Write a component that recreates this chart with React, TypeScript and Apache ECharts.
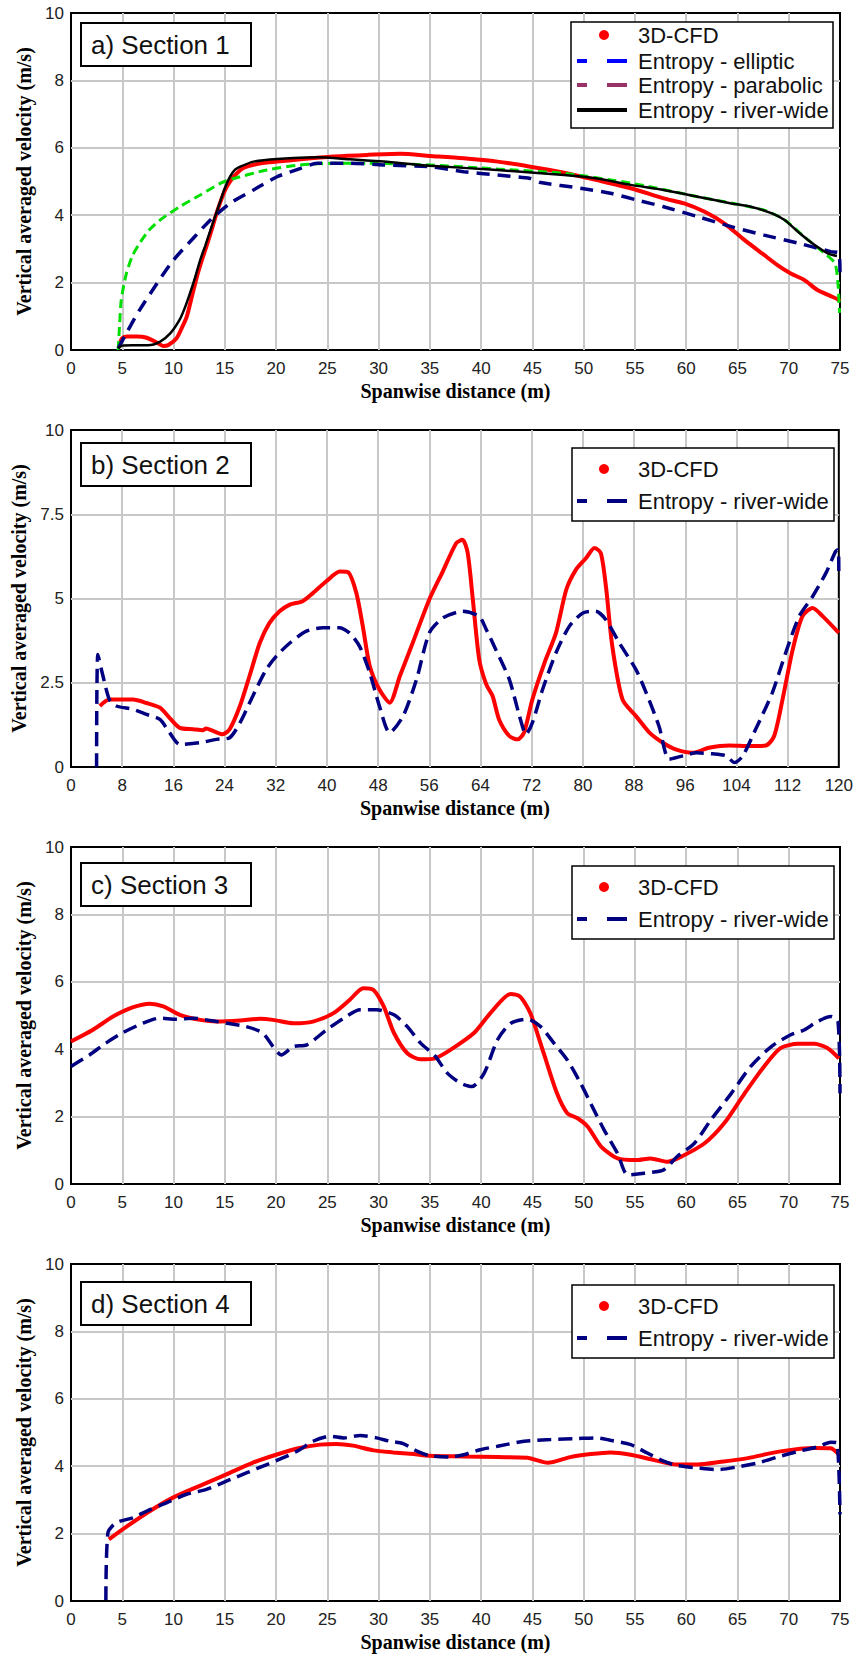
import React, { useEffect, useRef } from "react";
import * as echarts from "echarts";

// ---------- data ----------
const xTicks1 = { min: 0, max: 75, interval: 5 };
const xTicks2 = { min: 0, max: 120, interval: 8 };
const yTicksStd = { min: 0, max: 10, interval: 2 };
const yTicks2 = { min: 0, max: 10, interval: 2.5 };

const panelLabels = ["a) Section 1", "b) Section 2", "c) Section 3", "d) Section 4"];
const legendNames1 = ["3D-CFD", "Entropy - elliptic", "Entropy - parabolic", "Entropy - river-wide"];
const legendNames2 = ["3D-CFD", "Entropy - river-wide"];
const xAxisName = "Spanwise distance (m)";
const yAxisName = "Vertical averaged velocity (m/s)";

const s1Cfd: number[][] = [
  [4.7, 0.15], [5.0, 0.35], [5.5, 0.4], [6.5, 0.4], [7.3, 0.37], [8.2, 0.25], [9.0, 0.12], [9.5, 0.15],
  [10.3, 0.35], [10.8, 0.65], [11.3, 1.0], [11.8, 1.6], [12.3, 2.2], [12.8, 2.7], [13.2, 3.07], [13.7, 3.55],
  [14.2, 4.06], [14.7, 4.5], [15.2, 4.85], [15.9, 5.15], [16.8, 5.4], [18.5, 5.54], [20.1, 5.59], [22.4, 5.66],
  [25.6, 5.74], [28.9, 5.79], [32.1, 5.82], [35, 5.76], [38.3, 5.69], [41.6, 5.59], [44.8, 5.44], [48.1, 5.26],
  [51.3, 5.04], [54.6, 4.8], [57.8, 4.5], [59.8, 4.35], [61.8, 4.1], [63.7, 3.76], [65.7, 3.26], [67.6, 2.82],
  [68.9, 2.52], [70.2, 2.27], [71.5, 2.08], [72.8, 1.78], [74.1, 1.6], [74.8, 1.5], [75, 1.45],
];
const s1Elliptic: number[][] = [
  [4.6, 0.05], [5.4, 0.5], [6.7, 1.19], [8.4, 1.98], [10, 2.67], [11.9, 3.31], [13.6, 3.86], [15.5, 4.35],
  [17.8, 4.75], [20.1, 5.14], [22.4, 5.39], [24, 5.54], [27.2, 5.54], [30.5, 5.49], [35, 5.44], [38.3, 5.29],
  [41.6, 5.19], [44.8, 5.09], [45.8, 4.97], [49.7, 4.8], [52.6, 4.65], [55.2, 4.45], [57.8, 4.25], [61.1, 3.96],
  [64.4, 3.66], [67.6, 3.41], [70.9, 3.17], [74.1, 2.92], [74.9, 2.87], [75, 2.3],
];
const s1Parabolic: number[][] = [
  [4.6, 0], [4.75, 0.8], [4.9, 1.48], [5.4, 2.27], [6.0, 2.8], [6.7, 3.17], [7.6, 3.55], [8.7, 3.86],
  [10.6, 4.25], [12.6, 4.6], [14.6, 4.95], [15.9, 5.09], [19.1, 5.34], [22.4, 5.49], [25.6, 5.54], [28.9, 5.54],
  [35, 5.49], [41.6, 5.37], [48.1, 5.24], [54.6, 4.95], [61.1, 4.55], [67.6, 4.15], [69.6, 3.86], [71.5, 3.36],
  [73.5, 2.87], [74.5, 2.57], [74.8, 1.98], [74.95, 1.1],
];
const s1RiverWide: number[][] = [
  [4.6, 0.05], [5.0, 0.13], [6, 0.14], [7.5, 0.14], [8.7, 0.25], [9.7, 0.5], [10.6, 0.9], [11.1, 1.25],
  [11.6, 1.68], [12.1, 2.15], [12.6, 2.67], [13.1, 3.1], [13.6, 3.56], [14.1, 4.0], [14.6, 4.45], [15.0, 4.8],
  [15.5, 5.14], [16.0, 5.35], [16.5, 5.44], [17.8, 5.59], [20.1, 5.67], [24, 5.72], [27.2, 5.66], [30.5, 5.59],
  [35, 5.47], [41.6, 5.34], [48.1, 5.19], [51.3, 5.09], [54.6, 4.9], [57.8, 4.75], [61.1, 4.55], [64.4, 4.35],
  [66.3, 4.25], [68.3, 4.06], [69.6, 3.86], [70.9, 3.51], [72.5, 3.12], [73.8, 2.87], [74.7, 2.79],
];

const s2Cfd: number[][] = [
  [4.5, 1.81], [6.0, 2.0], [9.7, 2.0], [11.8, 1.9], [13.9, 1.76], [15.4, 1.46], [17.0, 1.16], [19.1, 1.12],
  [20.6, 1.09], [21.1, 1.14], [22.2, 1.07], [23.7, 0.97], [24.8, 1.12], [26.4, 1.81], [27.9, 2.7], [29.5, 3.68],
  [31.0, 4.27], [32.6, 4.62], [34.2, 4.82], [36.2, 4.92], [37.8, 5.16], [39.9, 5.51], [42.0, 5.8], [43.3, 5.78],
  [44.6, 5.16], [45.6, 4.18], [46.7, 2.99], [48.2, 2.3], [49.8, 1.91], [51.4, 2.7], [53.4, 3.68], [56.0, 4.97],
  [58.1, 5.8], [60.2, 6.64], [61.2, 6.74], [62.0, 6.35], [62.8, 4.97], [63.8, 3.19], [64.9, 2.45], [65.9, 2.1],
  [66.9, 1.41], [68.5, 0.92], [69.8, 0.82], [70.8, 1.02], [72.1, 2.0], [74.0, 3.09], [75.8, 3.98], [77.4, 5.26],
  [78.9, 5.85], [80.5, 6.2], [81.8, 6.5], [82.8, 6.35], [83.6, 5.36], [84.6, 3.58], [86.2, 2.0], [88.3, 1.51],
  [90.4, 1.02], [92.5, 0.72], [94.5, 0.52], [97.1, 0.42], [99.7, 0.57], [102.9, 0.64], [106.0, 0.62], [108.6, 0.64],
  [109.9, 0.92], [111.2, 2.0], [112.8, 3.49], [114.3, 4.47], [115.9, 4.72], [117.5, 4.47], [120, 3.98],
];
const s2RiverWide: number[][] = [
  [4.0, 0], [4.2, 3.34], [5.0, 2.7], [6.0, 2.0], [7.1, 1.81], [9.7, 1.71], [11.8, 1.56], [13.9, 1.41],
  [15.4, 1.02], [17.0, 0.67], [20.1, 0.72], [22.7, 0.82], [24.8, 0.87], [26.4, 1.31], [28.4, 2.1], [30.5, 2.89],
  [32.1, 3.29], [34.2, 3.68], [36.8, 4.03], [39.4, 4.13], [42.0, 4.13], [43.5, 3.98], [45.1, 3.58], [46.7, 2.79],
  [48.2, 1.81], [49.8, 1.02], [51.9, 1.51], [54.0, 2.6], [56.0, 3.98], [58.1, 4.42], [61.2, 4.62], [63.8, 4.47],
  [64.9, 4.08], [66.4, 3.48], [68.5, 2.6], [70.1, 1.51], [71.1, 0.97], [72.1, 1.31], [73.7, 2.3], [75.8, 3.39],
  [77.9, 4.18], [80.0, 4.57], [82.0, 4.62], [83.6, 4.37], [85.7, 3.68], [88.3, 2.89], [89.9, 2.2], [91.9, 1.21],
  [93.5, 0.23], [95.6, 0.33], [97.7, 0.42], [100.3, 0.39], [102.4, 0.33], [103.7, 0.13], [105.0, 0.33], [107.0, 1.12],
  [109.6, 2.2], [111.7, 3.39], [113.8, 4.47], [115.9, 5.06], [118.0, 5.76], [119.5, 6.4], [119.9, 6.45], [120, 5.76],
];

const s3Cfd: number[][] = [
  [0, 4.23], [2.1, 4.57], [4.1, 4.97], [6.0, 5.24], [7.7, 5.35], [9.0, 5.27], [10.6, 5.02], [12.6, 4.87],
  [14.2, 4.82], [16.5, 4.85], [18.4, 4.9], [19.7, 4.87], [21.7, 4.77], [23.6, 4.82], [25.6, 5.07], [27.2, 5.47],
  [28.5, 5.81], [29.5, 5.76], [30.5, 5.27], [31.5, 4.48], [32.8, 3.88], [34.1, 3.7], [35.5, 3.73], [37.0, 3.98],
  [39.3, 4.48], [40.9, 5.07], [42.9, 5.64], [43.8, 5.56], [44.8, 5.07], [46.1, 3.88], [47.4, 2.69], [48.4, 2.1],
  [49.4, 1.95], [50.4, 1.7], [51.7, 1.11], [53.3, 0.76], [55.2, 0.71], [56.5, 0.76], [58.2, 0.66], [59.5, 0.81],
  [61.8, 1.21], [63.7, 1.8], [65.7, 2.69], [67.6, 3.49], [69.2, 4.03], [70.9, 4.16], [72.5, 4.16], [73.8, 4.03],
  [74.9, 3.73],
];
const s3RiverWide: number[][] = [
  [0, 3.49], [1.8, 3.83], [3.4, 4.18], [5.0, 4.48], [7.0, 4.77], [8.6, 4.92], [10.3, 4.89], [11.9, 4.92],
  [13.2, 4.87], [15.2, 4.77], [17.1, 4.67], [18.7, 4.48], [19.7, 4.08], [20.5, 3.83], [21.7, 4.08], [23.0, 4.13],
  [24.9, 4.57], [26.6, 4.92], [28.2, 5.17], [29.8, 5.17], [31.5, 5.02], [32.8, 4.67], [34.1, 4.18], [35.5, 3.8],
  [36.7, 3.29], [38.0, 2.99], [39.1, 2.89], [40.3, 3.29], [41.6, 4.28], [42.9, 4.77], [44.5, 4.89], [45.8, 4.67],
  [47.1, 4.18], [48.4, 3.68], [49.7, 2.99], [51.0, 2.2], [52.0, 1.6], [53.3, 0.91], [54.3, 0.27], [55.9, 0.32],
  [57.8, 0.42], [59.1, 0.81], [60.8, 1.21], [62.4, 1.9], [64.4, 2.69], [66.3, 3.49], [68.3, 4.08], [70.2, 4.43],
  [71.5, 4.57], [72.8, 4.82], [74.1, 4.97], [74.8, 4.82], [75, 2.69],
];

const s4Cfd: number[][] = [
  [3.7, 1.83], [5.0, 2.12], [7.7, 2.67], [9.9, 3.06], [12.5, 3.41], [15.1, 3.75], [17.7, 4.1], [20.0, 4.34],
  [22.3, 4.54], [24.3, 4.64], [25.9, 4.66], [27.5, 4.61], [29.5, 4.47], [31.4, 4.41], [33.4, 4.36], [35.0, 4.31],
  [38.3, 4.29], [41.6, 4.27], [44.5, 4.25], [46.5, 4.1], [48.7, 4.27], [50.7, 4.36], [52.6, 4.41], [54.6, 4.34],
  [56.9, 4.18], [59.1, 4.05], [61.1, 4.05], [63.4, 4.13], [66.0, 4.24], [69.2, 4.44], [72.5, 4.54], [74.1, 4.53],
  [74.9, 4.34],
];
const s4RiverWide: number[][] = [
  [3.4, 0.03], [3.6, 2.02], [4.4, 2.32], [6.0, 2.47], [7.7, 2.71], [9.3, 2.91], [11.2, 3.16], [13.2, 3.31],
  [15.1, 3.55], [17.1, 3.8], [19.1, 4.05], [21.0, 4.29], [22.3, 4.49], [23.6, 4.74], [25.3, 4.89], [26.6, 4.84],
  [28.2, 4.91], [29.8, 4.84], [31.1, 4.74], [32.4, 4.67], [33.8, 4.44], [35.0, 4.31], [37.0, 4.27], [38.3, 4.34],
  [39.9, 4.49], [41.6, 4.59], [44.2, 4.74], [46.8, 4.79], [49.4, 4.82], [51.3, 4.84], [52.6, 4.77], [54.6, 4.64],
  [56.2, 4.39], [57.8, 4.15], [59.1, 4.02], [61.1, 3.95], [63.1, 3.9], [65.0, 3.98], [67.0, 4.1], [68.9, 4.27],
  [70.9, 4.44], [72.8, 4.57], [74.1, 4.71], [74.7, 4.69], [75, 2.57],
];

// ---------- styling ----------
const SANS = "'Liberation Sans', Arial, sans-serif";
const SERIF = "'Liberation Serif', 'Times New Roman', serif";
const RED = "#ff0000";
const NAVY = "#000080";
const GREEN = "#00e000";
const TOPS = [13, 430, 847, 1264];
const PH = 337;
const LEFT = 71;
const RIGHT_EDGE = 840;

function buildOption() {
  const grids = TOPS.map((t) => ({
    left: LEFT,
    top: t,
    width: RIGHT_EDGE - LEFT,
    height: PH,
    show: true,
    borderColor: "#000",
    borderWidth: 2,
    backgroundColor: "#fff",
  }));
  const xt = [xTicks1, xTicks2, xTicks1, xTicks1];
  const yt = [yTicksStd, yTicks2, yTicksStd, yTicksStd];
  const xAxis = xt.map((t, i) => ({
    type: "value",
    gridIndex: i,
    min: t.min,
    max: t.max,
    interval: t.interval,
    axisLine: { show: false },
    axisTick: { show: false },
    axisLabel: { fontSize: 17, color: "#222", margin: 10, fontFamily: SANS },
    splitLine: { show: true, showMinLine: false, showMaxLine: false, lineStyle: { color: "#c8c8c8", width: 2 } },
    name: xAxisName,
    nameLocation: "middle",
    nameGap: 31,
    nameTextStyle: { fontFamily: SERIF, fontWeight: "bold", fontSize: 20, color: "#000" },
  }));
  const yAxis = yt.map((t, i) => ({
    type: "value",
    gridIndex: i,
    min: t.min,
    max: t.max,
    interval: t.interval,
    axisLine: { show: false },
    axisTick: { show: false },
    axisLabel: { fontSize: 17, color: "#222", margin: 7, fontFamily: SANS },
    splitLine: { show: true, showMinLine: false, showMaxLine: false, lineStyle: { color: "#c8c8c8", width: 2 } },
    name: yAxisName,
    nameLocation: "middle",
    nameGap: 36,
    nameTextStyle: { fontFamily: SERIF, fontWeight: "bold", fontSize: 20, color: "#000" },
  }));

  const line = (data: number[][], idx: number, color: string, width: number, type: any, z: number) => ({
    type: "line",
    xAxisIndex: idx,
    yAxisIndex: idx,
    data,
    showSymbol: false,
    symbol: "none",
    smooth: 0.25,
    z,
    lineStyle: { color, width, type, cap: "butt" },
  });

  const series = [
    line(s1Cfd, 0, RED, 4, "solid", 2),
    line(s1Parabolic, 0, GREEN, 3, [9, 5], 3),
    line(s1Elliptic, 0, NAVY, 3.5, [13, 8], 4),
    line(s1RiverWide, 0, "#000", 2.5, "solid", 5),
    line(s2Cfd, 1, RED, 4, "solid", 2),
    line(s2RiverWide, 1, NAVY, 3.5, [14, 7], 4),
    line(s3Cfd, 2, RED, 4, "solid", 2),
    line(s3RiverWide, 2, NAVY, 3.5, [14, 7], 4),
    line(s4Cfd, 3, RED, 4, "solid", 2),
    line(s4RiverWide, 3, NAVY, 3.5, [14, 7], 4),
  ];

  const graphic: any[] = [];
  // section label boxes
  const labelBoxTops = [23, 443, 863, 1282];
  labelBoxTops.forEach((bt, i) => {
    graphic.push({
      type: "rect",
      z: 100,
      shape: { x: 81, y: bt, width: 170, height: 43 },
      style: { fill: "#fff", stroke: "#000", lineWidth: 2 },
    });
    graphic.push({
      type: "text",
      z: 101,
      style: {
        text: panelLabels[i],
        x: 91,
        y: bt + 22,
        fontSize: 26,
        fontFamily: SANS,
        fill: "#111",
        verticalAlign: "middle",
        align: "left",
      },
    });
  });

  // legends
  const addText = (text: string, y: number) =>
    graphic.push({
      type: "text",
      z: 101,
      style: { text, x: 638, y, fontSize: 22, fontFamily: SANS, fill: "#111", verticalAlign: "middle", align: "left" },
    });
  const addDot = (y: number) =>
    graphic.push({ type: "circle", z: 101, shape: { cx: 604, cy: y, r: 5 }, style: { fill: RED } });
  const addDash = (y: number, color: string) => {
    graphic.push({ type: "line", z: 101, shape: { x1: 577, y1: y, x2: 587, y2: y }, style: { stroke: color, lineWidth: 4 } });
    graphic.push({ type: "line", z: 101, shape: { x1: 607, y1: y, x2: 627, y2: y }, style: { stroke: color, lineWidth: 4 } });
  };

  // legend a
  graphic.push({ type: "rect", z: 100, shape: { x: 571, y: 22, width: 262, height: 106 }, style: { fill: "#fff", stroke: "#000", lineWidth: 1.5 } });
  addDot(35);
  addText(legendNames1[0], 35);
  addDash(61, "#0000ff");
  addText(legendNames1[1], 61);
  addDash(85, "#993366");
  addText(legendNames1[2], 85);
  graphic.push({ type: "line", z: 101, shape: { x1: 577, y1: 110, x2: 627, y2: 110 }, style: { stroke: "#000", lineWidth: 4 } });
  addText(legendNames1[3], 110);

  // legends b-d
  const legTops = [448, 866, 1285];
  legTops.forEach((lt) => {
    graphic.push({ type: "rect", z: 100, shape: { x: 572, y: lt, width: 262, height: 73 }, style: { fill: "#fff", stroke: "#000", lineWidth: 1.5 } });
    addDot(lt + 21);
    addText(legendNames2[0], lt + 21);
    addDash(lt + 53, NAVY);
    addText(legendNames2[1], lt + 53);
  });

  return {
    animation: false,
    backgroundColor: "#fff",
    grid: grids,
    xAxis,
    yAxis,
    series,
    graphic,
  };
}

export default function App() {
  const ref = useRef<HTMLDivElement>(null);
  useEffect(() => {
    if (!ref.current) return;
    const chart = echarts.init(ref.current, null, { renderer: "svg" });
    chart.setOption(buildOption() as any);
    return () => chart.dispose();
  }, []);
  return (
    <div
      ref={ref}
      style={{ position: "absolute", left: 0, top: 0, width: 856, height: 1657, background: "#fff" }}
    />
  );
}
